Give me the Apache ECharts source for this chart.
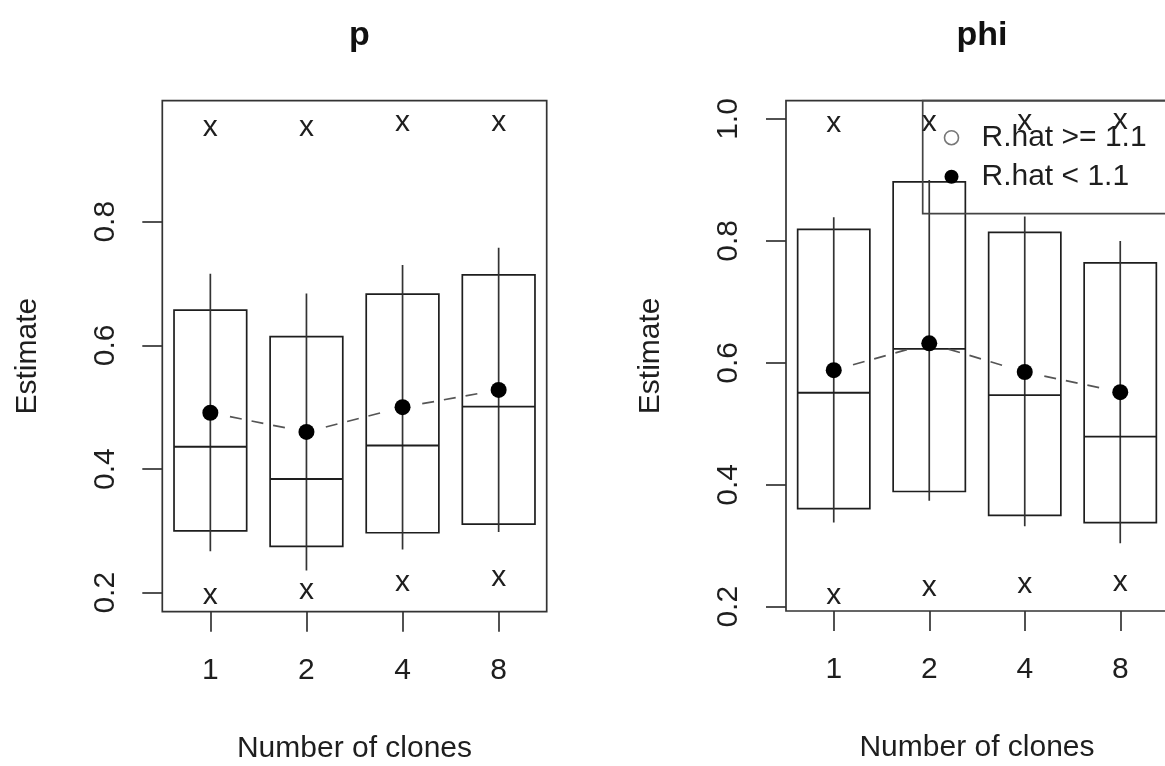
<!DOCTYPE html>
<html>
<head>
<meta charset="utf-8">
<script src="https://cdn.jsdelivr.net/npm/echarts@6/dist/echarts.min.js"></script>
<style>
html,body{margin:0;padding:0;background:#fff;}
#chart{width:1165px;height:766px;}
</style>
</head>
<body>
<div id="chart"></div>
<script>
// ---- data ----
const clones = ["1", "2", "4", "8"];

// panel "p"
const pWhiskerLow  = [0.267, 0.236, 0.270, 0.298];
const pBoxLow      = [0.300, 0.275, 0.297, 0.311];
const pMedian      = [0.436, 0.384, 0.438, 0.501];
const pBoxHigh     = [0.657, 0.614, 0.683, 0.714];
const pWhiskerHigh = [0.716, 0.684, 0.730, 0.758];
const pMean        = [0.491, 0.460, 0.500, 0.528];
const pLowX        = [0.198, 0.206, 0.219, 0.228];
const pHighX       = [0.955, 0.955, 0.964, 0.964];
const pTicks       = [0.2, 0.4, 0.6, 0.8];
const pTickLabels  = ["0.2", "0.4", "0.6", "0.8"];

// panel "phi"
const phiWhiskerLow  = [0.338, 0.374, 0.332, 0.304];
const phiBoxLow      = [0.361, 0.389, 0.350, 0.338];
const phiMedian      = [0.551, 0.623, 0.547, 0.479];
const phiBoxHigh     = [0.819, 0.897, 0.814, 0.764];
const phiWhiskerHigh = [0.839, 0.900, 0.840, 0.800];
const phiMean        = [0.588, 0.632, 0.585, 0.552];
const phiLowX        = [0.221, 0.235, 0.239, 0.243];
const phiHighX       = [0.996, 0.997, 0.998, 1.000];
const phiTicks       = [0.2, 0.4, 0.6, 0.8, 1.0];
const phiTickLabels  = ["0.2", "0.4", "0.6", "0.8", "1.0"];

const titles = ["p", "phi"];
const legendNames = ["R.hat >= 1.1", "R.hat < 1.1"];
const xName = "Number of clones";
const yName = "Estimate";

// ---- styling ----
const FONT = "'Liberation Sans', Arial, Helvetica, sans-serif";
const INK = "#1e1e1e";

const chart = echarts.init(document.getElementById('chart'), null, {renderer: 'canvas'});

function boxData(wl, bl, md, bh, wh) {
  return clones.map((c, i) => [i, wl[i], bl[i], md[i], bh[i], wh[i]]);
}
function segData(mean) {
  const out = [];
  for (let i = 0; i < mean.length - 1; i++) out.push([i, mean[i], i + 1, mean[i + 1]]);
  return out;
}
function xMarkData(lo, hi) {
  const out = [];
  clones.forEach((c, i) => { out.push([i, lo[i]]); out.push([i, hi[i]]); });
  return out;
}

function renderBox(params, api) {
  const i = api.value(0);
  const band = api.size([1, 0])[0];
  const half = band * 0.378;
  const wl = api.coord([i, api.value(1)]);
  const bl = api.coord([i, api.value(2)]);
  const md = api.coord([i, api.value(3)]);
  const bh = api.coord([i, api.value(4)]);
  const wh = api.coord([i, api.value(5)]);
  const st = {stroke: INK, lineWidth: 1.7, fill: null};
  return {
    type: 'group',
    children: [
      {type: 'rect', shape: {x: bh[0] - half, y: bh[1], width: 2 * half, height: bl[1] - bh[1]}, style: st},
      {type: 'line', shape: {x1: wh[0], y1: wh[1], x2: wl[0], y2: wl[1]}, style: {stroke: '#333', lineWidth: 1.7}},
      {type: 'line', shape: {x1: md[0] - half, y1: md[1], x2: md[0] + half, y2: md[1]}, style: {stroke: INK, lineWidth: 1.9}}
    ]
  };
}

function renderSeg(params, api) {
  const a = api.coord([api.value(0), api.value(1)]);
  const b = api.coord([api.value(2), api.value(3)]);
  const dx = b[0] - a[0], dy = b[1] - a[1];
  const len = Math.sqrt(dx * dx + dy * dy);
  const gap = 20;
  const ux = dx / len, uy = dy / len;
  return {
    type: 'line',
    shape: {x1: a[0] + ux * gap, y1: a[1] + uy * gap, x2: b[0] - ux * gap, y2: b[1] - uy * gap},
    style: {stroke: '#555', lineWidth: 1.7, lineDash: [12, 10]}
  };
}

function renderX(params, api) {
  const p = api.coord([api.value(0), api.value(1)]);
  return {
    type: 'text',
    x: p[0], y: p[1] + 2,
    style: {text: 'x', font: '30px ' + FONT, fill: INK, align: 'center', verticalAlign: 'middle'}
  };
}

function tickFormatter(ticks, labels) {
  return function (v) {
    let best = 0, bd = Infinity;
    ticks.forEach((t, k) => { const d = Math.abs(t - v); if (d < bd) { bd = d; best = k; } });
    return labels[best];
  };
}

function xAxisFor(gridIndex) {
  return {
    type: 'category', gridIndex: gridIndex, data: clones, boundaryGap: true,
    axisLine: {show: false},
    axisTick: {show: true, alignWithLabel: true, length: 20, inside: false, lineStyle: {color: '#333', width: 1.7}},
    axisLabel: {fontSize: 30, fontFamily: FONT, color: INK, margin: 44},
    splitLine: {show: false},
    name: xName, nameLocation: 'middle', nameGap: 122,
    nameTextStyle: {fontSize: 30, fontFamily: FONT, color: INK}
  };
}
function yAxisFor(gridIndex, min, max, ticks, labels) {
  return {
    type: 'value', gridIndex: gridIndex, min: min, max: max,
    axisLine: {show: false},
    axisTick: {show: true, length: 20, customValues: ticks, lineStyle: {color: '#333', width: 1.7}},
    axisLabel: {fontSize: 30, fontFamily: FONT, color: INK, rotate: 90, margin: 42,
      customValues: ticks, formatter: tickFormatter(ticks, labels)},
    splitLine: {show: false},
    name: yName, nameLocation: 'middle', nameGap: 120, nameRotate: 90,
    nameTextStyle: {fontSize: 30, fontFamily: FONT, color: INK}
  };
}

const option = {
  backgroundColor: '#ffffff',
  animation: false,
  title: [
    {text: titles[0], left: 354.5, top: 14, textAlign: 'center', textStyle: {fontSize: 34, fontWeight: 'bold', fontFamily: FONT, color: '#111'}},
    {text: titles[1], left: 977, top: 14, textAlign: 'center', textStyle: {fontSize: 34, fontWeight: 'bold', fontFamily: FONT, color: '#111'}}
  ],
  grid: [
    {left: 162.3, top: 100.7, width: 384.4, height: 511, show: true, borderColor: '#333', borderWidth: 1.7,
      backgroundColor: 'transparent', outerBoundsMode: 'none', containLabel: false},
    {left: 786, top: 100.7, width: 382, height: 510.3, show: true, borderColor: '#333', borderWidth: 1.7,
      backgroundColor: 'transparent', outerBoundsMode: 'none', containLabel: false}
  ],
  xAxis: [xAxisFor(0), xAxisFor(1)],
  yAxis: [
    yAxisFor(0, 0.1693, 0.9957, pTicks, pTickLabels),
    yAxisFor(1, 0.193, 1.030, phiTicks, phiTickLabels)
  ],
  legend: {
    left: 922.7, top: 100.7, orient: 'vertical',
    padding: [22, 40, 22, 21], itemGap: 9, itemWidth: 14, itemHeight: 14,
    borderColor: '#444', borderWidth: 1.7, backgroundColor: 'transparent',
    textStyle: {fontSize: 30, fontFamily: FONT, color: INK, lineHeight: 30, padding: [0, 0, 0, 18]},
    data: [
      {name: legendNames[0], icon: 'circle', itemStyle: {color: '#fff', borderColor: '#555', borderWidth: 1.6}},
      {name: legendNames[1], icon: 'circle', itemStyle: {color: '#000', borderWidth: 0}}
    ],
    selectedMode: false
  },
  series: [
    {type: 'custom', xAxisIndex: 0, yAxisIndex: 0, data: boxData(pWhiskerLow, pBoxLow, pMedian, pBoxHigh, pWhiskerHigh), renderItem: renderBox, z: 2},
    {type: 'custom', xAxisIndex: 0, yAxisIndex: 0, data: segData(pMean), renderItem: renderSeg, z: 3},
    {type: 'custom', xAxisIndex: 0, yAxisIndex: 0, data: xMarkData(pLowX, pHighX), renderItem: renderX, z: 4},
    {type: 'scatter', name: legendNames[1], xAxisIndex: 0, yAxisIndex: 0, data: clones.map((c, i) => [i, pMean[i]]),
      symbol: 'circle', symbolSize: 16, itemStyle: {color: '#000', opacity: 1}, z: 5},

    {type: 'custom', xAxisIndex: 1, yAxisIndex: 1, data: boxData(phiWhiskerLow, phiBoxLow, phiMedian, phiBoxHigh, phiWhiskerHigh), renderItem: renderBox, z: 2},
    {type: 'custom', xAxisIndex: 1, yAxisIndex: 1, data: segData(phiMean), renderItem: renderSeg, z: 3},
    {type: 'custom', xAxisIndex: 1, yAxisIndex: 1, data: xMarkData(phiLowX, phiHighX), renderItem: renderX, z: 4},
    {type: 'scatter', name: legendNames[1], xAxisIndex: 1, yAxisIndex: 1, data: clones.map((c, i) => [i, phiMean[i]]),
      symbol: 'circle', symbolSize: 16, itemStyle: {color: '#000', opacity: 1}, z: 5},
    {type: 'scatter', name: legendNames[0], xAxisIndex: 1, yAxisIndex: 1, data: [],
      symbol: 'circle', symbolSize: 12, itemStyle: {color: '#fff', borderColor: '#555', borderWidth: 1.6}, z: 5}
  ]
};
chart.setOption(option);
</script>
</body>
</html>
